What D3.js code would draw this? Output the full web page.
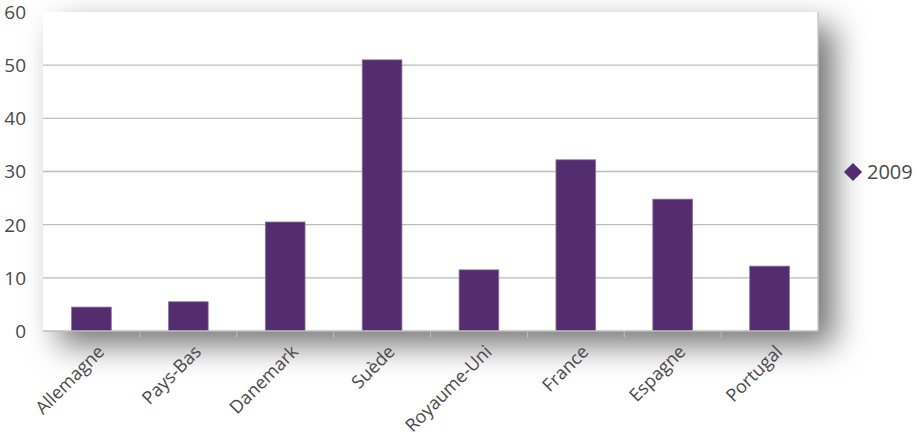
<!DOCTYPE html>
<html><head><meta charset="utf-8">
<script src="https://cdn.jsdelivr.net/npm/d3@7"></script>
<style>
html,body{margin:0;padding:0;background:#fff;}
svg{display:block;font-family:"Open Sans",sans-serif;}
</style></head>
<body><svg id="c" width="918" height="437"></svg>
<script>
const categories = ["Allemagne","Pays-Bas","Danemark","Suède","Royaume-Uni","France","Espagne","Portugal"];
const values2009 = [4.5, 5.5, 20.5, 51.0, 11.5, 32.2, 24.8, 12.2];
const yTicks = [0,10,20,30,40,50,60];
const seriesName = "2009";

const svg = d3.select("#c");
const pL = 43, pR = 818, pT = 12, pB = 331;
const x = d3.scaleBand().domain(categories).range([pL, pR]).paddingInner(0.59).paddingOuter(0.295);
const xb = d3.scaleBand().domain(categories).range([pL, pR]);
const y = d3.scaleLinear().domain([0,60]).range([pB, pT]);

const defs = svg.append("defs");
const f = defs.append("filter").attr("id","sh").attr("x","-10%").attr("y","-10%").attr("width","135%").attr("height","160%");
f.append("feDropShadow").attr("dx",16).attr("dy",14).attr("stdDeviation",16).attr("flood-color","#000").attr("flood-opacity",0.55);

svg.append("rect").attr("x",pL).attr("y",pT).attr("width",pR-pL).attr("height",pB-pT)
  .attr("fill","#fff").attr("filter","url(#sh)");
svg.append("line").attr("x1",pR).attr("x2",pR).attr("y1",pT).attr("y2",pB).attr("stroke","#c8c8c8").attr("stroke-width",1.5);

svg.append("g").selectAll("line").data(yTicks.filter(d=>d>0 && d<60)).join("line")
  .attr("x1",pL).attr("x2",pR).attr("y1",d=>y(d)).attr("y2",d=>y(d))
  .attr("stroke","#bdbdbd").attr("stroke-width",1.3);

svg.append("g").selectAll("text").data(yTicks).join("text")
  .attr("x",26).attr("y",d=>y(d)).attr("dy","0.36em").attr("text-anchor","end")
  .attr("fill","#4a4a4a").attr("font-size",19).text(d=>d);

svg.append("g").selectAll("rect").data(categories).join("rect")
  .attr("x",d=>x(d)).attr("width",x.bandwidth())
  .attr("y",(d,i)=>y(values2009[i])).attr("height",(d,i)=>y(0)-y(values2009[i]))
  .attr("fill","#532d6d").attr("stroke","#8f74a6").attr("stroke-width",0.8);

svg.append("line").attr("x1",pL).attr("x2",pR).attr("y1",pB).attr("y2",pB).attr("stroke","#bdbdbd").attr("stroke-width",1.5);
svg.append("g").selectAll("line").data(categories.slice(1)).join("line")
  .attr("x1",d=>xb(d)).attr("x2",d=>xb(d)).attr("y1",pB).attr("y2",pB+7)
  .attr("stroke","#bdbdbd").attr("stroke-width",1);

svg.append("g").selectAll("text").data(categories).join("text")
  .attr("transform",d=>`translate(${xb(d)+xb.bandwidth()/2+5},${pB+13}) rotate(-45)`)
  .attr("text-anchor","end").attr("dy","0.7em")
  .attr("fill","#4a4a4a").attr("font-size",18).text(d=>d);

const lg = svg.append("g").attr("transform","translate(853,172)");
lg.append("path").attr("d",d3.symbol(d3.symbolDiamond2,210)()).attr("fill","#532d6d");
lg.append("text").attr("x",14).attr("dy","0.36em").attr("fill","#4a4a4a").attr("font-size",20).text(seriesName);
</script></body></html>
